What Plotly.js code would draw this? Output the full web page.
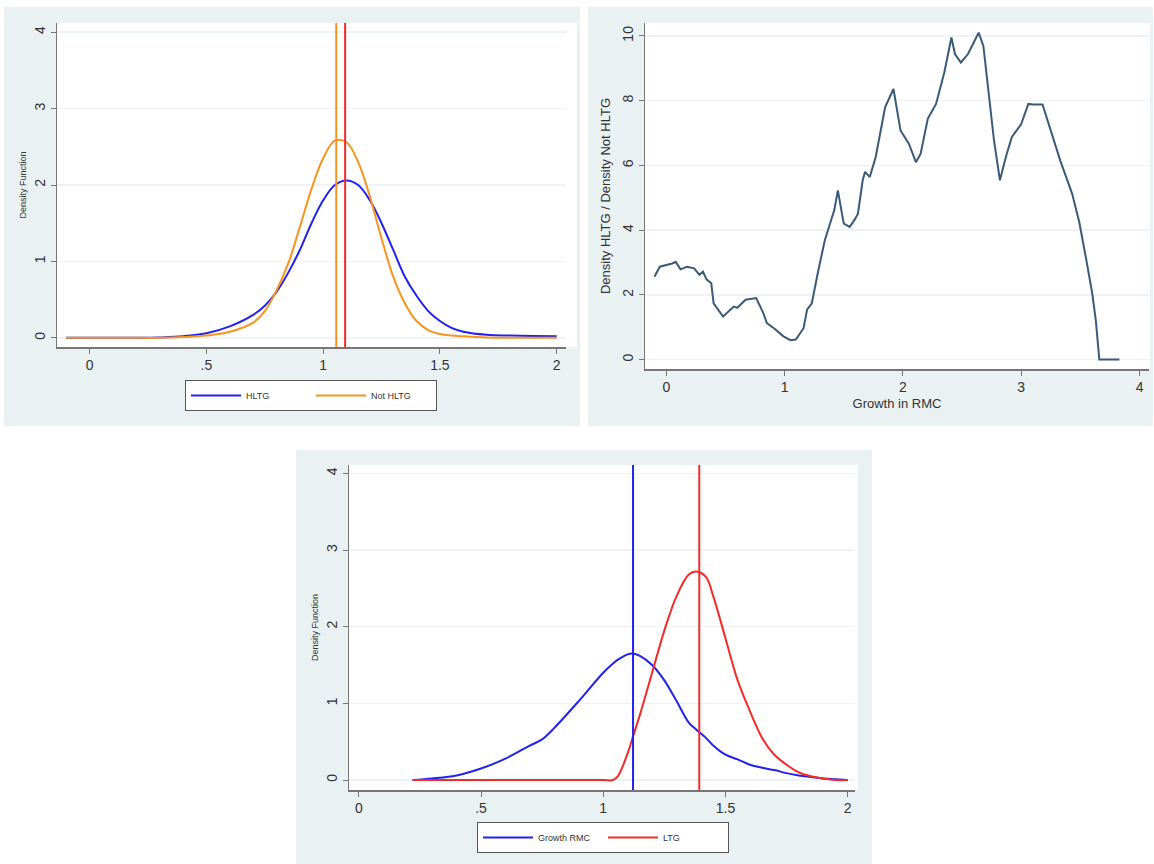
<!DOCTYPE html>
<html>
<head>
<meta charset="utf-8">
<script src="https://cdn.plot.ly/plotly-3.0.1.min.js"></script>
<style>body{margin:0;background:#fff}#chart{width:1154px;height:864px}</style>
</head>
<body>
<div id="chart"></div>
<script>
// Panel 1: density HLTG vs not HLTG
const x1 = [-0.1, 0, 0.1, 0.2, 0.3, 0.4, 0.5, 0.6, 0.7, 0.75, 0.8, 0.85, 0.9, 0.95, 1.0, 1.05, 1.1, 1.15, 1.2, 1.25, 1.3, 1.35, 1.4, 1.45, 1.5, 1.55, 1.6, 1.7, 1.8, 1.9, 2.0]
const hltg = [0, 0, 0, 0, 0.005, 0.02, 0.06, 0.15, 0.3, 0.42, 0.6, 0.85, 1.15, 1.5, 1.8, 2.0, 2.06, 2.0, 1.8, 1.5, 1.15, 0.8, 0.55, 0.35, 0.22, 0.13, 0.08, 0.04, 0.03, 0.025, 0.02]
const notHltg = [0, 0, 0, 0, 0, 0.01, 0.03, 0.08, 0.2, 0.35, 0.62, 0.97, 1.45, 1.95, 2.35, 2.58, 2.56, 2.3, 1.85, 1.3, 0.8, 0.45, 0.22, 0.1, 0.05, 0.03, 0.02, 0.005, 0, 0, 0]
const vlines1 = [1.056, 1.094]

// Panel 2: density ratio
const x2 = [-0.1, -0.055, 0.05, 0.08, 0.12, 0.175, 0.236, 0.28, 0.31, 0.34, 0.38, 0.4, 0.48, 0.57, 0.6, 0.67, 0.76, 0.82, 0.85, 0.91, 0.99, 1.05, 1.095, 1.16, 1.19, 1.23, 1.28, 1.34, 1.42, 1.45, 1.5, 1.55, 1.59, 1.62, 1.66, 1.68, 1.72, 1.77, 1.85, 1.92, 1.98, 2.05, 2.11, 2.15, 2.21, 2.28, 2.35, 2.41, 2.44, 2.49, 2.55, 2.64, 2.68, 2.72, 2.77, 2.82, 2.87, 2.92, 3.0, 3.06, 3.1, 3.18, 3.24, 3.33, 3.43, 3.49, 3.55, 3.6, 3.63, 3.66, 3.83]
const ratio = [2.56, 2.87, 2.97, 3.02, 2.79, 2.87, 2.82, 2.62, 2.72, 2.48, 2.36, 1.74, 1.33, 1.64, 1.6, 1.85, 1.9, 1.44, 1.13, 0.97, 0.72, 0.6, 0.62, 0.97, 1.54, 1.74, 2.67, 3.69, 4.62, 5.23, 4.2, 4.1, 4.31, 4.51, 5.54, 5.8, 5.64, 6.26, 7.8, 8.36, 7.08, 6.67, 6.1, 6.36, 7.44, 7.9, 8.87, 9.95, 9.44, 9.18, 9.44, 10.1, 9.69, 8.41, 6.77, 5.54, 6.26, 6.87, 7.28, 7.9, 7.88, 7.88, 7.18, 6.15, 5.13, 4.26, 3.08, 2.05, 1.23, 0, 0]

// Panel 3: growth RMC vs LTG
const x3 = [0.22, 0.3, 0.4, 0.5, 0.6, 0.7, 0.75, 0.8, 0.9, 1.0, 1.04, 1.06, 1.1, 1.12, 1.15, 1.2, 1.25, 1.3, 1.35, 1.38, 1.42, 1.45, 1.5, 1.55, 1.6, 1.65, 1.7, 1.75, 1.8, 1.85, 1.9, 1.95, 2.0]
const growthRmc = [0, 0.02, 0.06, 0.15, 0.28, 0.45, 0.53, 0.68, 1.03, 1.4, 1.52, 1.57, 1.64, 1.65, 1.62, 1.5, 1.3, 1.03, 0.75, 0.66, 0.55, 0.45, 0.33, 0.27, 0.2, 0.16, 0.13, 0.09, 0.06, 0.04, 0.02, 0.01, 0]
const ltg = [0, 0, 0, 0, 0, 0, 0, 0, 0, 0, 0, 0.05, 0.35, 0.55, 0.85, 1.4, 1.95, 2.4, 2.68, 2.72, 2.65, 2.4, 1.85, 1.3, 0.9, 0.55, 0.33, 0.2, 0.1, 0.05, 0.02, 0, 0]
const vlines3 = [1.122, 1.393]

const W = 1154, H = 864
const px = v => v / W
const py = v => 1 - v / H
const bg = '#eaf1f3'
const grid = '#eef4f5'
const axisCommon = {
  showline: true, linecolor: '#777', linewidth: 1.5, ticks: 'outside', ticklen: 5,
  tickcolor: '#777', showgrid: false, zeroline: false,
  tickfont: { family: 'Liberation Sans, Arial', size: 14, color: '#333' }
}
const yCommon = Object.assign({}, axisCommon, { showgrid: true, gridcolor: grid, gridwidth: 1.5, tickangle: -90 })
const xt = { tickvals: [0, 0.5, 1, 1.5, 2], ticktext: ['0', '.5', '1', '1.5', '2'] }

const traces = [
  { x: x1, y: hltg, type: 'scatter', mode: 'lines', name: 'HLTG', line: { color: '#2121f0', width: 2, shape: 'spline' }, xaxis: 'x', yaxis: 'y', legend: 'legend' },
  { x: x1, y: notHltg, type: 'scatter', mode: 'lines', name: 'Not HLTG', line: { color: '#f7941d', width: 2, shape: 'spline' }, xaxis: 'x', yaxis: 'y', legend: 'legend' },
  { x: x2, y: ratio, type: 'scatter', mode: 'lines', showlegend: false, line: { color: '#3b5a78', width: 2 }, xaxis: 'x2', yaxis: 'y2' },
  { x: x3, y: growthRmc, type: 'scatter', mode: 'lines', name: 'Growth RMC', line: { color: '#2121f0', width: 2, shape: 'spline' }, xaxis: 'x3', yaxis: 'y3', legend: 'legend2' },
  { x: x3, y: ltg, type: 'scatter', mode: 'lines', name: 'LTG', line: { color: '#f42a2a', width: 2, shape: 'spline' }, xaxis: 'x3', yaxis: 'y3', legend: 'legend2' }
]

const vline = (xref, yref, x, color) => ({ type: 'line', xref: xref, yref: yref + ' domain', x0: x, x1: x, y0: 0, y1: 1, line: { color: color, width: 2 } })
const box = (x0, y0, x1, y1) => ({ type: 'rect', xref: 'paper', yref: 'paper', x0: px(x0), x1: px(x1), y0: py(y1), y1: py(y0), fillcolor: bg, line: { width: 0 }, layer: 'below' })
const plotBox = (x0, y0, x1, y1) => ({ type: 'rect', xref: 'paper', yref: 'paper', x0: px(x0), x1: px(x1), y0: py(y1), y1: py(y0), fillcolor: '#fff', line: { width: 0 }, layer: 'below' })

const legendFont = { family: 'Liberation Sans, Arial', size: 9, color: '#333' }

const layout = {
  width: W, height: H,
  margin: { l: 0, r: 0, t: 0, b: 0 },
  paper_bgcolor: '#fff', plot_bgcolor: 'rgba(0,0,0,0)',
  font: { family: 'Liberation Sans, Arial', color: '#333' },
  xaxis: Object.assign({}, axisCommon, xt, { domain: [px(57), px(566)], range: [-0.14, 2.04], anchor: 'y' }),
  yaxis: Object.assign({}, yCommon, { domain: [py(347), py(23)], range: [-0.12, 4.12], anchor: 'x', tickvals: [0, 1, 2, 3, 4],
    title: { text: 'Density Function', font: { size: 9, color: '#333' }, standoff: 4 } }),
  xaxis2: Object.assign({}, axisCommon, { domain: [px(645), px(1149)], range: [-0.18, 4.08], anchor: 'y2', tickvals: [0, 1, 2, 3, 4],
    title: { text: 'Growth in RMC', font: { size: 13, color: '#333' }, standoff: 4 } }),
  yaxis2: Object.assign({}, yCommon, { domain: [py(369), py(23)], range: [-0.29, 10.4], anchor: 'x2', tickvals: [0, 2, 4, 6, 8, 10],
    title: { text: 'Density HLTG / Density Not HLTG', font: { size: 13, color: '#333' }, standoff: 6 } }),
  xaxis3: Object.assign({}, axisCommon, xt, { domain: [px(349), px(855)], range: [-0.04, 2.03], anchor: 'y3' }),
  yaxis3: Object.assign({}, yCommon, { domain: [py(790), py(465)], range: [-0.13, 4.11], anchor: 'x3', tickvals: [0, 1, 2, 3, 4],
    title: { text: 'Density Function', font: { size: 9, color: '#333' }, standoff: 4 } }),
  legend: { orientation: 'h', x: px(311), y: py(380), xanchor: 'center', yanchor: 'top', bgcolor: '#fff', bordercolor: '#555', borderwidth: 1,
    font: legendFont, itemwidth: 50, entrywidth: 60 },
  legend2: { orientation: 'h', x: px(603), y: py(822), xanchor: 'center', yanchor: 'top', bgcolor: '#fff', bordercolor: '#555', borderwidth: 1,
    font: legendFont, itemwidth: 50, entrywidth: 60 },
  shapes: [
    box(4, 7, 580, 426), box(588, 7, 1153, 426), box(296, 450, 872, 864),
    plotBox(57, 23, 577, 347), plotBox(645, 23, 1150, 369), plotBox(349, 465, 858, 790),
    vline('x', 'y', vlines1[0], '#f7941d'), vline('x', 'y', vlines1[1], '#f42a2a'),
    vline('x3', 'y3', vlines3[0], '#2121f0'), vline('x3', 'y3', vlines3[1], '#f42a2a')
  ]
}

Plotly.newPlot('chart', traces, layout, { displayModeBar: false, staticPlot: true })
</script>
</body>
</html>
